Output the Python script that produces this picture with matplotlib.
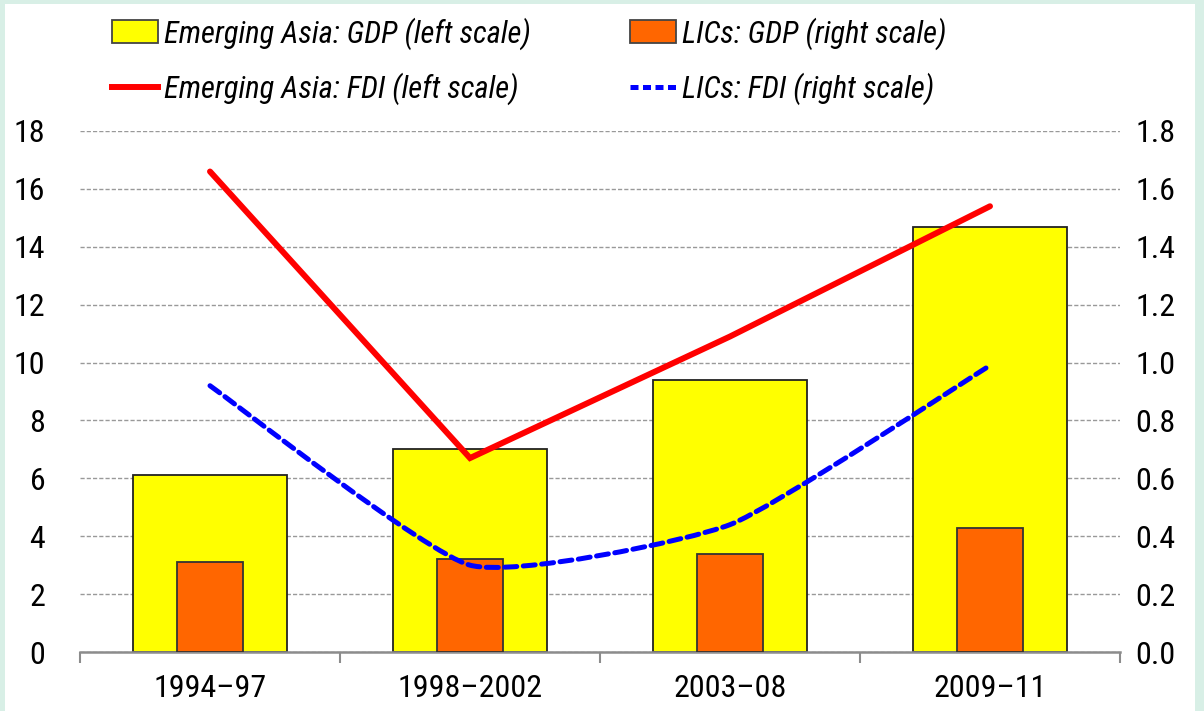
import matplotlib
matplotlib.use("Agg")
import matplotlib.pyplot as plt
import matplotlib.patches as mpatches
from matplotlib.path import Path
from matplotlib.lines import Line2D
import numpy as np

plt.rcParams['font.family'] = ['Roboto Condensed', 'DejaVu Sans']

periods = ["1994\u201397", "1998\u20132002", "2003\u201308", "2009\u201311"]
asia_gdp = [6.1, 7.0, 9.4, 14.7]        # left scale
lic_gdp = [0.31, 0.32, 0.34, 0.43]      # right scale
asia_fdi = [16.6, 6.7, 10.9, 15.4]      # left scale
lic_fdi = [0.92, 0.30, 0.44, 0.99]      # right scale

left_ticks = np.arange(0, 19, 2)
right_ticks = np.arange(0, 1.81, 0.2)

YELLOW = "#ffff00"
ORANGE = "#ff6600"
RED = "#ff0000"
BLUE = "#0000ff"
MINT = "#d8efe6"


def smooth_path(xs, ys, k=1 / 12):
    # excel-ish smoothed line: cardinal spline segments as cubic beziers
    pts = np.column_stack([xs, ys]).astype(float)
    ext = np.vstack([pts[0], pts, pts[-1]])
    verts = [tuple(pts[0])]
    codes = [Path.MOVETO]
    for i in range(1, len(ext) - 2):
        p0, p1, p2, p3 = ext[i - 1], ext[i], ext[i + 1], ext[i + 2]
        c1 = p1 + (p2 - p0) * k
        c2 = p2 - (p3 - p1) * k
        verts += [tuple(c1), tuple(c2), tuple(p2)]
        codes += [Path.CURVE4] * 3
    return Path(verts, codes)


fig = plt.figure(figsize=(12.04, 7.11), dpi=100)
fig.patch.set_facecolor(MINT)
fig.patches.append(mpatches.Rectangle((5 / 1204, 0), 1190 / 1204, 1 - 4 / 711,
                                      transform=fig.transFigure, facecolor="white",
                                      edgecolor="none", zorder=-10))

ax = fig.add_axes([80 / 1204, 1 - 652 / 711, 1040 / 1204, 521 / 711])
ax.set_facecolor("none")
ax2 = ax.twinx()

x = np.arange(len(periods))

ax.bar(x, asia_gdp, width=0.59, color=YELLOW, edgecolor="#222222", linewidth=1.3, zorder=2)
ax2.bar(x, lic_gdp, width=0.255, color=ORANGE, edgecolor="#333333", linewidth=1.3, zorder=2)
ax.plot(x, asia_fdi, color=RED, lw=4.3, solid_capstyle="round", solid_joinstyle="miter", zorder=4)
ax2.add_patch(mpatches.PathPatch(smooth_path(x, lic_fdi), facecolor="none", edgecolor=BLUE,
                                 lw=3.6, linestyle=(0, (2.4, 1.3)), capstyle="round", zorder=5))

ax.set_xlim(-0.5, len(periods) - 0.5)
ax.set_ylim(0, 18)
ax2.set_ylim(0, 1.8)
ax.set_yticks(left_ticks)
ax.set_yticklabels([f"{v:d}" for v in left_ticks])
ax2.set_yticks(right_ticks)
ax2.set_yticklabels([f"{v:.1f}" for v in right_ticks])

ax.yaxis.grid(True, linestyle=(0, (3, 1.5)), color="#999999", linewidth=1.0)
ax.set_axisbelow(True)

ax.set_xticks(x)
ax.set_xticklabels(periods)
ax.set_xticks(np.arange(-0.5, len(periods), 1), minor=True)
ax.tick_params(axis="x", which="major", length=0, labelsize=23, pad=16)
ax.tick_params(axis="x", which="minor", length=8, width=1.5, color="#8c8c8c", direction="out")
ax.tick_params(axis="y", length=0, labelsize=23, pad=25)
ax2.tick_params(axis="y", length=0, labelsize=23, pad=11)

for a in (ax, ax2):
    for s in ("left", "right", "top"):
        a.spines[s].set_visible(False)
ax.spines["bottom"].set_color("#8c8c8c")
ax.spines["bottom"].set_linewidth(1.8)
ax2.spines["bottom"].set_visible(False)

# legend: two separate columns placed where the reference has them
leg_kw = dict(loc="upper left", frameon=False, prop={"size": 22, "style": "italic"},
              handlelength=1.5, handleheight=0.75, handletextpad=0.2,
              labelspacing=0.75, borderaxespad=0, borderpad=0)
leg1 = fig.legend([mpatches.Patch(facecolor=YELLOW, edgecolor="#444444", linewidth=1.3),
                   Line2D([], [], color=RED, lw=4.3)],
                  ["Emerging Asia: GDP (left scale)", "Emerging Asia: FDI (left scale)"],
                  bbox_to_anchor=(112 / 1204, 1 - 17 / 711), **leg_kw)
leg2 = fig.legend([mpatches.Patch(facecolor=ORANGE, edgecolor="#444444", linewidth=1.3),
                   Line2D([], [], color=BLUE, lw=3.6, linestyle=(0, (1.6, 0.9)))],
                  ["LICs: GDP (right scale)", "LICs: FDI (right scale)"],
                  bbox_to_anchor=(630 / 1204, 1 - 17 / 711), **leg_kw)

fig.savefig("out.png", dpi=100, facecolor=fig.get_facecolor())
